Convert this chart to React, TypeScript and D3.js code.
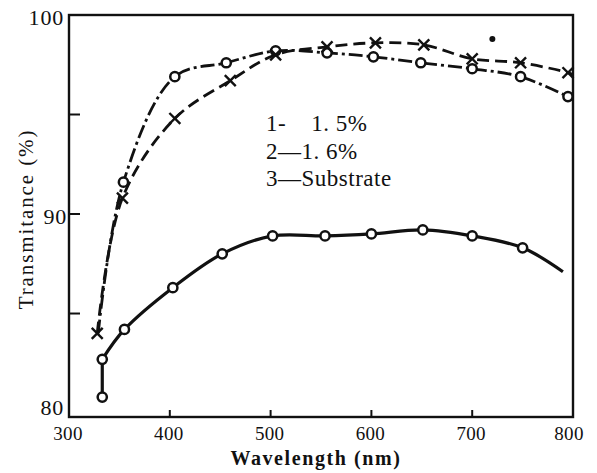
import React, { useEffect, useRef } from "react";
import * as d3 from "d3";

// wavelength (nm) and transmittance (%)
const wavelength1 = [329, 354, 405, 456, 505, 556, 602, 649, 700, 748, 795];
const film1 = [84.0, 91.6, 96.9, 97.6, 98.2, 98.1, 97.9, 97.6, 97.3, 96.9, 95.9];

const wavelength2 = [328, 353, 405, 460, 505, 556, 604, 652, 700, 748, 795, 800];
const film2 = [84.0, 90.8, 94.8, 96.7, 98.0, 98.4, 98.6, 98.5, 97.8, 97.6, 97.1, 97.0];

const wavelength3 = [333, 355, 403, 452, 502, 554, 600, 651, 700, 750, 790];
const substrate = [82.7, 84.2, 86.3, 88.0, 88.9, 88.9, 89.0, 89.2, 88.9, 88.3, 87.1];
const substrateLow = [333, 80.8];

const strayDot = [720, 98.8];

const xTicks = [300, 400, 500, 600, 700, 800];
const yTicks = [80, 90, 100];
const yMinorTicks = [85, 95];
const legendLines = ["1-    1. 5%", "2\u20141. 6%", "3\u2014Substrate"];

export default function App() {
  const ref = useRef<SVGSVGElement>(null);

  useEffect(() => {
    const svg = d3.select(ref.current);
    svg.selectAll("*").remove();

    const left = 69, right = 573, top = 15, bottom = 417;
    const x = d3.scaleLinear().domain([300, 800]).range([left, right]);
    const y = d3.scaleLinear().domain([79.8, 100]).range([bottom, top]);
    const font = "'Liberation Serif', 'DejaVu Serif', serif";

    // frame
    svg.append("rect")
      .attr("x", left).attr("y", top)
      .attr("width", right - left).attr("height", bottom - top)
      .attr("fill", "none").attr("stroke", "#111").attr("stroke-width", 2.4);

    // ticks pointing inwards
    svg.selectAll(".xt").data(xTicks.slice(1, -1)).enter().append("line")
      .attr("x1", d => x(d)).attr("x2", d => x(d))
      .attr("y1", bottom).attr("y2", bottom - 7)
      .attr("stroke", "#111").attr("stroke-width", 2);
    svg.selectAll(".yt").data([90, ...yMinorTicks]).enter().append("line")
      .attr("x1", left).attr("x2", left + 11)
      .attr("y1", d => y(d)).attr("y2", d => y(d))
      .attr("stroke", "#111").attr("stroke-width", 2);

    svg.selectAll(".xl").data(xTicks).enter().append("text")
      .attr("x", d => x(d) - (d === 800 ? 4 : 1)).attr("y", 440)
      .attr("text-anchor", "middle")
      .attr("font-family", font).attr("font-size", 19).attr("letter-spacing", 0.3)
      .attr("fill", "#111").text(d => d);
    svg.selectAll(".yl").data(yTicks).enter().append("text")
      .attr("x", d => (d === 90 ? 67 : 64))
      .attr("y", d => (d === 80 ? y(d) + 2 : y(d) + 10))
      .attr("text-anchor", "end")
      .attr("font-family", font).attr("font-size", 22).attr("letter-spacing", 0.8)
      .attr("fill", "#111").text(d => d);

    svg.append("text")
      .attr("x", 316).attr("y", 465).attr("text-anchor", "middle")
      .attr("font-family", font).attr("font-size", 20).attr("font-weight", "bold")
      .attr("letter-spacing", 1.6).attr("fill", "#111")
      .text("Wavelength (nm)");
    svg.append("text")
      .attr("transform", "translate(33,219) rotate(-90)")
      .attr("text-anchor", "middle")
      .attr("font-family", font).attr("font-size", 21)
      .attr("letter-spacing", 1.9).attr("fill", "#111")
      .text("Transmitance (%)");

    // legend
    svg.selectAll(".lg").data(legendLines).enter().append("text")
      .attr("x", 266).attr("y", (d, i) => 131 + i * 27.5)
      .attr("font-family", font).attr("font-size", 23)
      .attr("letter-spacing", 0.5).attr("fill", "#111")
      .style("white-space", "pre")
      .text(d => d);

    const line = d3.line<number[]>()
      .x(d => x(d[0])).y(d => y(d[1]))
      .curve(d3.curveCatmullRom.alpha(0.5));

    const pts1 = wavelength1.map((w, i) => [w, film1[i]]);
    const pts2 = wavelength2.map((w, i) => [w, film2[i]]);
    const pts3 = wavelength3.map((w, i) => [w, substrate[i]]);

    svg.append("path").attr("d", line(pts1))
      .attr("fill", "none").attr("stroke", "#111").attr("stroke-width", 2.8)
      .attr("stroke-dasharray", "14 4 3 4");
    svg.append("path").attr("d", line(pts2))
      .attr("fill", "none").attr("stroke", "#111").attr("stroke-width", 2.8)
      .attr("stroke-dasharray", "12 6");
    svg.append("path").attr("d", line(pts3))
      .attr("fill", "none").attr("stroke", "#111").attr("stroke-width", 3.2);
    svg.append("line")
      .attr("x1", x(substrateLow[0])).attr("x2", x(pts3[0][0]))
      .attr("y1", y(substrateLow[1])).attr("y2", y(pts3[0][1]))
      .attr("stroke", "#111").attr("stroke-width", 3.2);

    // markers
    const circles = [...pts1.slice(1), ...pts3.slice(0, -1), substrateLow];
    svg.selectAll(".c").data(circles).enter().append("circle")
      .attr("cx", d => x(d[0])).attr("cy", d => y(d[1])).attr("r", 4.6)
      .attr("fill", "white").attr("stroke", "#111").attr("stroke-width", 2.5);
    svg.selectAll(".x").data(pts2.slice(0, -1)).enter().append("path")
      .attr("transform", d => `translate(${x(d[0])},${y(d[1])})`)
      .attr("d", d3.symbol().type(d3.symbolX).size(80)())
      .attr("fill", "none").attr("stroke", "#111").attr("stroke-width", 2.4);
    svg.append("circle")
      .attr("cx", x(strayDot[0])).attr("cy", y(strayDot[1])).attr("r", 3)
      .attr("fill", "#111");
  }, []);

  return (
    <svg ref={ref} width={597} height={473}
      style={{ position: "absolute", left: 0, top: 0, background: "white" }} />
  );
}
